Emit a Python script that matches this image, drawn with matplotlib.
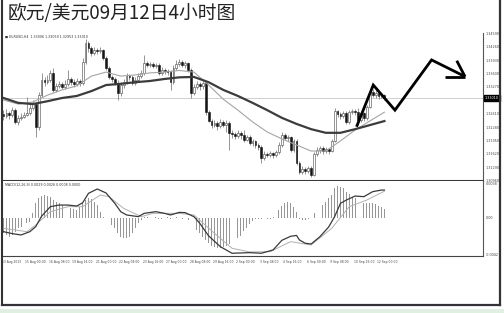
import matplotlib
matplotlib.use("Agg")
import matplotlib.pyplot as plt
import matplotlib.transforms as mtrans
from matplotlib.patches import Rectangle
import numpy as np

plt.rcParams['font.family'] = ['DejaVu Sans']

# ---------------- data ----------------
title = "欧元/美元09月12日4小时图"

opens = [1.3261, 1.3256, 1.3264, 1.3259, 1.3271, 1.3242, 1.3252, 1.3254, 1.3259, 1.3264,
         1.3276, 1.3286, 1.3229, 1.3308, 1.3345, 1.3340, 1.3345, 1.3363, 1.3321, 1.3331,
         1.3336, 1.3328, 1.3336, 1.3348, 1.3340, 1.3336, 1.3343, 1.3338, 1.3390, 1.3437,
         1.3424, 1.3412, 1.3420, 1.3417, 1.3420, 1.3400, 1.3375, 1.3353, 1.3348, 1.3338,
         1.3313, 1.3333, 1.3340, 1.3355, 1.3353, 1.3338, 1.3345, 1.3355, 1.3363, 1.3387,
         1.3382, 1.3385, 1.3380, 1.3382, 1.3363, 1.3370, 1.3368, 1.3365, 1.3340, 1.3375,
         1.3385, 1.3390, 1.3382, 1.3387, 1.3370, 1.3313, 1.3328, 1.3336, 1.3331, 1.3338,
         1.3266, 1.3244, 1.3234, 1.3239, 1.3232, 1.3242, 1.3234, 1.3239, 1.3215, 1.3212,
         1.3207, 1.3215, 1.3210, 1.3197, 1.3205, 1.3190, 1.3195, 1.3185, 1.3180, 1.3153,
         1.3163, 1.3160, 1.3165, 1.3160, 1.3168, 1.3185, 1.3210, 1.3202, 1.3205, 1.3173,
         1.3195, 1.3140, 1.3118, 1.3126, 1.3121, 1.3128, 1.3111, 1.3163, 1.3173, 1.3177,
         1.3170, 1.3175, 1.3170, 1.3195, 1.3269, 1.3261, 1.3256, 1.3264, 1.3242, 1.3266,
         1.3269, 1.3266, 1.3247, 1.3264, 1.3252, 1.3279, 1.3316, 1.3308, 1.3313, 1.3306,
         1.3308]
highs = [1.3271, 1.3274, 1.3269, 1.3279, 1.3276, 1.3259, 1.3264, 1.3266, 1.3303, 1.3289,
         1.3296, 1.3291, 1.3316, 1.3363, 1.3353, 1.3358, 1.3370, 1.3375, 1.3338, 1.3343,
         1.3340, 1.3345, 1.3370, 1.3353, 1.3348, 1.3350, 1.3348, 1.3400, 1.3447, 1.3442,
         1.3429, 1.3427, 1.3424, 1.3427, 1.3422, 1.3405, 1.3380, 1.3358, 1.3353, 1.3345,
         1.3340, 1.3348, 1.3363, 1.3360, 1.3358, 1.3353, 1.3363, 1.3370, 1.3407, 1.3392,
         1.3390, 1.3390, 1.3387, 1.3387, 1.3378, 1.3375, 1.3373, 1.3370, 1.3382, 1.3395,
         1.3397, 1.3395, 1.3392, 1.3390, 1.3375, 1.3336, 1.3343, 1.3340, 1.3345, 1.3340,
         1.3271, 1.3249, 1.3247, 1.3244, 1.3249, 1.3247, 1.3247, 1.3244, 1.3222, 1.3217,
         1.3222, 1.3219, 1.3222, 1.3210, 1.3210, 1.3200, 1.3197, 1.3190, 1.3185, 1.3170,
         1.3168, 1.3170, 1.3168, 1.3173, 1.3192, 1.3217, 1.3215, 1.3210, 1.3207, 1.3200,
         1.3200, 1.3145, 1.3133, 1.3131, 1.3133, 1.3133, 1.3168, 1.3180, 1.3182, 1.3182,
         1.3180, 1.3177, 1.3200, 1.3276, 1.3271, 1.3266, 1.3269, 1.3269, 1.3271, 1.3274,
         1.3274, 1.3276, 1.3269, 1.3266, 1.3284, 1.3321, 1.3323, 1.3321, 1.3318, 1.3313,
         1.3311]
lows = [1.3247, 1.3252, 1.3249, 1.3254, 1.3237, 1.3234, 1.3247, 1.3252, 1.3256, 1.3259,
        1.3271, 1.3205, 1.3222, 1.3303, 1.3331, 1.3336, 1.3340, 1.3316, 1.3316, 1.3326,
        1.3323, 1.3323, 1.3331, 1.3333, 1.3328, 1.3331, 1.3331, 1.3333, 1.3385, 1.3415,
        1.3405, 1.3407, 1.3410, 1.3412, 1.3395, 1.3370, 1.3348, 1.3340, 1.3333, 1.3296,
        1.3306, 1.3326, 1.3336, 1.3345, 1.3333, 1.3333, 1.3340, 1.3350, 1.3358, 1.3378,
        1.3378, 1.3375, 1.3375, 1.3358, 1.3358, 1.3360, 1.3358, 1.3321, 1.3336, 1.3370,
        1.3380, 1.3378, 1.3375, 1.3365, 1.3301, 1.3308, 1.3323, 1.3321, 1.3323, 1.3259,
        1.3242, 1.3227, 1.3229, 1.3222, 1.3227, 1.3229, 1.3217, 1.3173, 1.3202, 1.3200,
        1.3202, 1.3200, 1.3192, 1.3195, 1.3185, 1.3182, 1.3177, 1.3173, 1.3140, 1.3148,
        1.3155, 1.3155, 1.3153, 1.3155, 1.3163, 1.3180, 1.3197, 1.3195, 1.3168, 1.3168,
        1.3135, 1.3113, 1.3113, 1.3113, 1.3116, 1.3106, 1.3108, 1.3158, 1.3165, 1.3163,
        1.3165, 1.3163, 1.3168, 1.3192, 1.3254, 1.3249, 1.3252, 1.3237, 1.3237, 1.3261,
        1.3259, 1.3244, 1.3242, 1.3244, 1.3247, 1.3276, 1.3303, 1.3301, 1.3298, 1.3301,
        1.3296]
closes = [1.3256, 1.3264, 1.3259, 1.3271, 1.3242, 1.3252, 1.3254, 1.3259, 1.3264, 1.3276,
          1.3286, 1.3229, 1.3308, 1.3345, 1.3340, 1.3345, 1.3363, 1.3321, 1.3331, 1.3336,
          1.3328, 1.3336, 1.3348, 1.3340, 1.3336, 1.3343, 1.3338, 1.3390, 1.3437, 1.3424,
          1.3412, 1.3420, 1.3417, 1.3420, 1.3400, 1.3375, 1.3353, 1.3348, 1.3338, 1.3313,
          1.3333, 1.3340, 1.3355, 1.3353, 1.3338, 1.3345, 1.3355, 1.3363, 1.3387, 1.3382,
          1.3385, 1.3380, 1.3382, 1.3363, 1.3370, 1.3368, 1.3365, 1.3340, 1.3375, 1.3385,
          1.3390, 1.3382, 1.3387, 1.3370, 1.3313, 1.3328, 1.3336, 1.3331, 1.3338, 1.3266,
          1.3244, 1.3234, 1.3239, 1.3232, 1.3242, 1.3234, 1.3239, 1.3215, 1.3212, 1.3207,
          1.3215, 1.3210, 1.3197, 1.3205, 1.3190, 1.3195, 1.3185, 1.3180, 1.3153, 1.3163,
          1.3160, 1.3165, 1.3160, 1.3168, 1.3185, 1.3210, 1.3202, 1.3205, 1.3173, 1.3195,
          1.3140, 1.3118, 1.3126, 1.3121, 1.3128, 1.3111, 1.3163, 1.3173, 1.3177, 1.3170,
          1.3175, 1.3170, 1.3195, 1.3269, 1.3261, 1.3256, 1.3264, 1.3242, 1.3266, 1.3269,
          1.3266, 1.3247, 1.3264, 1.3252, 1.3279, 1.3316, 1.3308, 1.3313, 1.3306, 1.3308,
          1.3301]

# moving averages, read every 5 bars
ma_idx = [0, 5, 10, 15, 20, 25, 30, 35, 40, 45, 50, 55, 60, 65, 70, 75, 80, 85, 90,
          95, 100, 105, 110, 115, 120, 125, 130]
ma_slow = [1.3301, 1.3289, 1.3286, 1.3293, 1.3301, 1.3306, 1.3318, 1.3333, 1.3336, 1.3340,
           1.3343, 1.3348, 1.3352, 1.3353, 1.3340, 1.3321, 1.3306, 1.3289, 1.3271, 1.3252,
           1.3237, 1.3224, 1.3215, 1.3215, 1.3224, 1.3234, 1.3244]
ma_fast = [1.3296, 1.3286, 1.3291, 1.3308, 1.3321, 1.3331, 1.3355, 1.3365, 1.3355, 1.3358,
           1.3363, 1.3365, 1.3369, 1.3365, 1.3333, 1.3298, 1.3271, 1.3242, 1.3217, 1.3200,
           1.3185, 1.3170, 1.3170, 1.3195, 1.3222, 1.3244, 1.3266]

current_price = 1.3301
current_label = "1.33010"
price_ticks = [1.34590, 1.34260, 1.33930, 1.33600, 1.33270, 1.32940, 1.32610,
               1.32280, 1.31950, 1.31620, 1.31290, 1.30960]
price_labels = ["1.34590", "1.34260", "1.33930", "1.33600", "1.33270", "1.32940",
                "1.32610", "1.32280", "1.31950", "1.31620", "1.31290", "1.30960"]

# hand-drawn forecast arrow (bar index, price)
path_x = [120.5, 126.2, 133.6, 146.1, 157.5]
path_p = [1.3230, 1.3333, 1.3271, 1.3395, 1.3354]
head1_x = [150.7, 157.5]
head1_p = [1.3354, 1.3354]
head2_x = [154.7, 157.5]
head2_p = [1.3393, 1.3354]

hist = [-0.00172, -0.00190, -0.00209, -0.00190, -0.00153, -0.00116, -0.00097, -0.00078, -0.00060, -0.00041,
        0.00052, 0.00164, 0.00220, 0.00246, 0.00257, 0.00246, 0.00239, 0.00201, 0.00183, 0.00164,
        0.00145, 0.00127, 0.00119, 0.00108, 0.00097, 0.00090, 0.00127, 0.00164, 0.00201, 0.00220,
        0.00209, 0.00183, 0.00145, 0.00071, 0.00015, -0.00015, -0.00041, -0.00078, -0.00116, -0.00172,
        -0.00209, -0.00228, -0.00228, -0.00209, -0.00172, -0.00116, -0.00060, -0.00022, 0.00015, 0.00007,
        -0.00007, 0.00000, 0.00011, -0.00007, -0.00015, 0.00004, 0.00011, -0.00011, -0.00004, 0.00007,
        0.00004, -0.00007, 0.00000, -0.00022, -0.00060, -0.00097, -0.00134, -0.00172, -0.00209, -0.00246,
        -0.00283, -0.00313, -0.00328, -0.00339, -0.00339, -0.00328, -0.00313, -0.00291, -0.00265, -0.00246,
        -0.00228, -0.00201, -0.00150, -0.00110, -0.00070, -0.00030, -0.00015, -0.00011, -0.00007, -0.00004,
        -0.00011, -0.00015, 0.00015, 0.00045, 0.00090, 0.00134, 0.00172, 0.00183, 0.00164, 0.00127,
        0.00071, -0.00015, -0.00022, -0.00022, -0.00015, -0.00004, 0.00052, 0.00090, 0.00119, 0.00145,
        0.00183, 0.00220, 0.00257, 0.00332, 0.00358, 0.00351, 0.00332, 0.00295, 0.00269, 0.00239,
        0.00220, 0.00201, 0.00145, 0.00164, 0.00172, 0.00172, 0.00164, 0.00153, 0.00134, 0.00119,
        0.00097]

macd_idx = [0, 3, 6, 9, 11, 13, 16, 19, 22, 25, 27, 29, 32, 35, 38, 40, 42, 46, 48, 52,
            55, 57, 60, 62, 65, 67, 70, 74, 78, 84, 88, 92, 95, 98, 100, 101, 103, 105,
            108, 111, 113, 115, 117, 120, 123, 126, 129, 130]
macd_main = [-0.00153, -0.00175, -0.00190, -0.00153, -0.00097, 0.00020, 0.00127, 0.00145,
             0.00145, 0.00134, 0.00170, 0.00276, 0.00325, 0.00280, 0.00164, 0.00071, 0.00034,
             0.00015, 0.00052, 0.00071, 0.00052, 0.00034, 0.00063, 0.00060, 0.00015, -0.00060,
             -0.00200, -0.00321, -0.00395, -0.00388, -0.00395, -0.00358, -0.00250, -0.00205,
             -0.00195, -0.00246, -0.00283, -0.00291, -0.00209, -0.00100, 0.00015, 0.00164,
             0.00201, 0.00246, 0.00239, 0.00295, 0.00313, 0.00313]
sig_idx = [0, 8, 11, 16, 22, 27, 33, 36, 41, 47, 51, 60, 65, 72, 78, 84, 91, 98, 105,
           112, 118, 124, 130]
macd_signal = [-0.00116, -0.00153, -0.00078, 0.00071, 0.00127, 0.00127, 0.00257, 0.00239,
               0.00108, 0.00015, 0.00052, 0.00052, 0.00034, -0.00172, -0.00339, -0.00380,
               -0.00377, -0.00265, -0.00302, -0.00116, 0.00127, 0.00201, 0.00300]
macd_ticks = [0.0038, 0.0, -0.0042]
macd_tick_labels = ["0.0038", "0.00", "-0.0042"]

date_idx = [0, 8, 16, 24, 32, 40, 48, 56, 64, 72, 80, 88, 96, 104, 112, 120, 128]
date_labels = ["13 Aug 2013", "15 Aug 00:00", "16 Aug 08:00", "19 Aug 16:00", "21 Aug 00:00",
               "22 Aug 08:00", "23 Aug 16:00", "27 Aug 00:00", "28 Aug 08:00", "29 Aug 16:00",
               "2 Sep 00:00", "3 Sep 08:00", "4 Sep 16:00", "6 Sep 00:00", "9 Sep 08:00",
               "10 Sep 16:00", "12 Sep 00:00"]

main_info = "\u25a0 EURUSD,H4  1.33006 1.33059 1.32953 1.33010"
macd_info = "MACD(12,26,9) 0.0029 0.0026 0.0008 0.0000"

# ---------------- figure ----------------
W, H = 504, 313
fig = plt.figure(figsize=(W / 100, H / 100), dpi=100)
fig.patch.set_facecolor('white')


def px_rect(x0, y0, x1, y1):
    return [x0 / W, 1 - y1 / H, (x1 - x0) / W, (y1 - y0) / H]


ax = fig.add_axes(px_rect(3, 33, 483, 181))
axm = fig.add_axes(px_rect(3, 181, 483, 256), sharex=ax)

o = np.array(opens); h = np.array(highs); l = np.array(lows); c = np.array(closes)
idx = np.arange(len(c))
up = c >= o

ax.axhline(current_price, color='#c8c8c8', lw=0.6, zorder=0)
ax.vlines(idx, l, h, color='#6a6a6a', lw=0.5, zorder=1)
body_up = np.maximum((c - o)[up], 0.00004)
body_dn = np.maximum((o - c)[~up], 0.00004)
ax.bar(idx[up], body_up, bottom=o[up], width=0.62, facecolor='white',
       edgecolor='#444444', linewidth=0.4, zorder=2)
ax.bar(idx[~up], body_dn, bottom=c[~up], width=0.62, facecolor='#151515',
       edgecolor='#151515', linewidth=0.4, zorder=2)
ax.plot(ma_idx, ma_fast, color='#a5a5a5', lw=0.8, zorder=3)
ax.plot(ma_idx, ma_slow, color='#3c3c3c', lw=1.6, zorder=3)

# forecast arrow
kw = dict(color='black', lw=2.0, solid_joinstyle='miter', solid_capstyle='butt', zorder=6)
ax.plot(path_x, path_p, **kw)
ax.plot(head1_x, head1_p, **kw)
ax.plot(head2_x, head2_p, **kw)

ax.set_xlim(-0.17, 163.65)
ax.set_ylim(1.30960, 1.34615)
ax.set_xticks([]); ax.set_yticks([])
for s in ['top', 'left']:
    ax.spines[s].set_visible(False)
ax.spines['right'].set_color('#555555'); ax.spines['right'].set_linewidth(0.8)
ax.spines['bottom'].set_color('#3a3a3a'); ax.spines['bottom'].set_linewidth(1.5)

ytr = ax.get_yaxis_transform()
for p, s in zip(price_ticks, price_labels):
    ax.text(1.006, p, s, transform=ytr, fontsize=2.4, va='center', ha='left',
            color='#444444', clip_on=False)
ax.text(1.004, current_price, current_label, transform=ytr, fontsize=2.4, va='center',
        ha='left', color='white', zorder=10, clip_on=False,
        bbox=dict(boxstyle='square,pad=0.35', fc='black', ec='black'))
ax.text(0.004, 0.985, main_info, transform=ax.transAxes, fontsize=2.3, va='top',
        ha='left', color='#333333')

# MACD panel
axm.bar(idx, hist, width=0.3, color='#969696', zorder=1)
axm.plot(sig_idx, macd_signal, color='#b0b0b0', lw=0.7, zorder=2)
axm.plot(macd_idx, macd_main, color='#3a3a3a', lw=0.9, zorder=3)
axm.set_ylim(-0.004256, 0.004144)
axm.set_xlim(-0.17, 163.65)
axm.set_xticks([]); axm.set_yticks([])
for s in ['top', 'left']:
    axm.spines[s].set_visible(False)
axm.spines['right'].set_color('#555555'); axm.spines['right'].set_linewidth(0.8)
axm.spines['bottom'].set_color('#444444'); axm.spines['bottom'].set_linewidth(0.8)

ytm = axm.get_yaxis_transform()
for v, s in zip(macd_ticks, macd_tick_labels):
    axm.text(1.006, v, s, transform=ytm, fontsize=2.4, va='center', ha='left',
             color='#444444', clip_on=False)
axm.text(0.004, 0.975, macd_info, transform=axm.transAxes, fontsize=2.3, va='top',
         ha='left', color='#333333')

btr = mtrans.blended_transform_factory(axm.transData, axm.transAxes)
for i, s in zip(date_idx, date_labels):
    axm.text(i - 0.5, -0.08, s, transform=btr, fontsize=2.2, va='center', ha='left',
             color='#444444', clip_on=False)

# title
fig.text(8 / W, 1 - 14 / H, title, fontsize=13.5, va='center', ha='left',
         family=['Noto Sans CJK SC', 'DejaVu Sans'], color='#222222')

# outer frame and bottom strip (overlay in pixel coordinates)
ov = fig.add_axes([0, 0, 1, 1], facecolor='none')
ov.set_xlim(0, W); ov.set_ylim(H, 0); ov.axis('off')
ov.add_patch(Rectangle((0, 309), W, 4, facecolor='#dcf2dc', edgecolor='none'))
ov.plot([2, 2], [0, 305], color='#333333', lw=1.5)
ov.plot([1.5, 500], [304.5, 304.5], color='#333333', lw=1.6)
ov.plot([499.5, 499.5], [0, 305], color='#333333', lw=1.6)

fig.savefig("out.png", dpi=100, facecolor='white')
